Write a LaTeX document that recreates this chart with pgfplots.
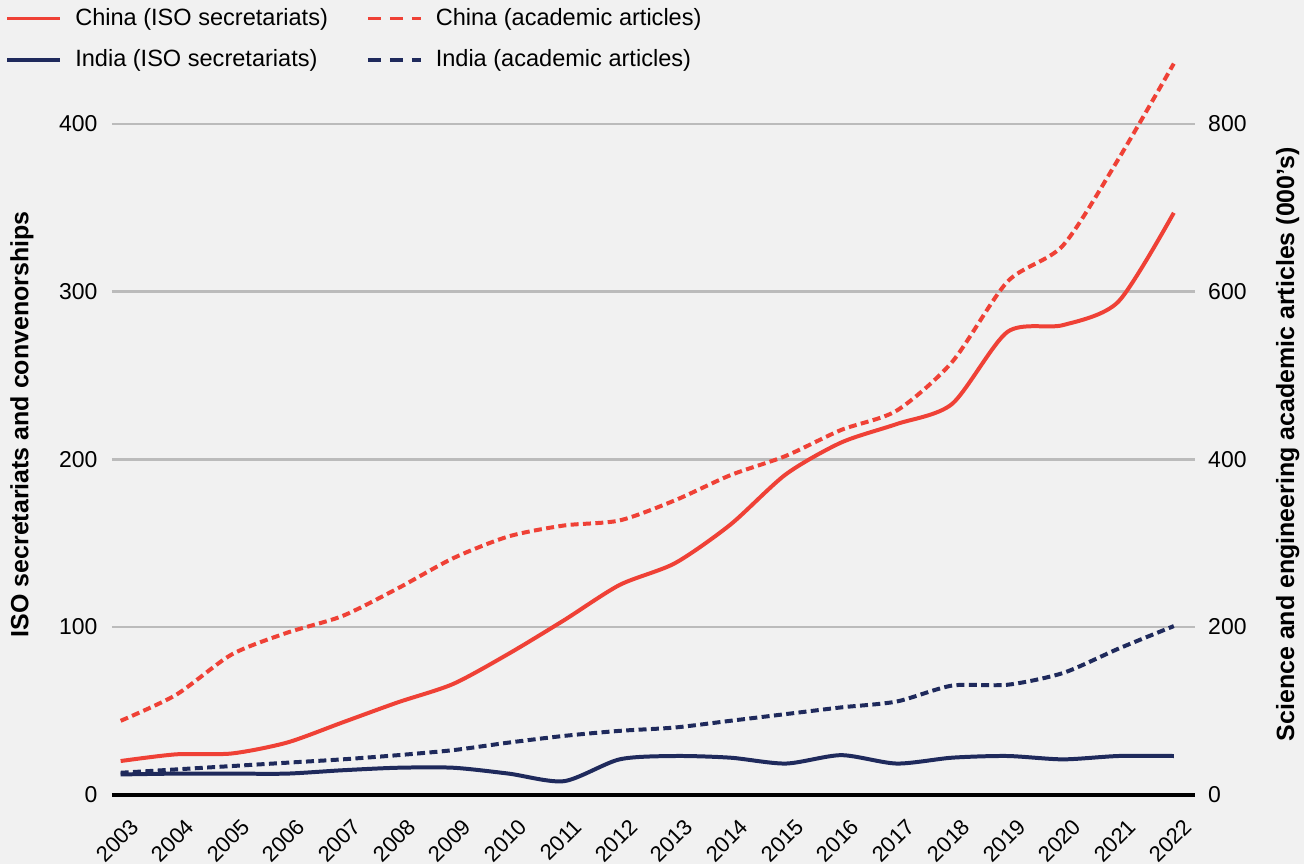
\documentclass[border=0pt]{standalone}
\usepackage{pgfplots}
\pgfplotsset{compat=1.18}
\usepackage{fontspec}
\setmainfont{Liberation Sans}
\definecolor{bg}{HTML}{F1F1F1}
\definecolor{cred}{HTML}{EF4136}
\definecolor{cnavy}{HTML}{1F2A5C}
\definecolor{cgrid}{HTML}{BBBBBB}

\pgfplotstableread{
year chinaiso indiaiso
2003 20   12
2004 24   12.5
2005 24.5 12.5
2006 31   12.5
2007 43   14.5
2008 55   16
2009 66   16
2010 84   12.5
2011 104  8
2012 125  21
2013 138  23
2014 161  22
2015 191  18.5
2016 210  23.5
2017 221  18.5
2018 233  22
2019 276  23
2020 280  21
2021 294  23
2022 347  23
}\isodata

\pgfplotstableread{
year chinaart indiaart
2003 88   26
2004 119  30
2005 167  34
2006 193  38
2007 213  42
2008 246  47
2009 282  53
2010 308  62
2011 321  70
2012 327  76
2013 351  80
2014 381  88
2015 404  96
2016 435  104
2017 458  111
2018 516  130
2019 612  131
2020 655  145
2021 758  174
2022 872  201
}\artdata

\begin{document}
\begin{tikzpicture}
\fill[bg] (-56pt,-35pt) rectangle (597pt,398pt);
\begin{axis}[
  at={(0,0)}, anchor=south west, scale only axis,
  width=542.5pt, height=369.5pt,
  xmin=2002.84, xmax=2022.38, ymin=0, ymax=440,
  xtick={2003,...,2022},
  ytick={0,100,200,300,400},
  major tick length=0pt,
  axis x line*=bottom, axis y line*=left,
  x axis line style={black, line width=2pt, -},
  y axis line style={draw=none},
  ymajorgrids, grid style={cgrid, line width=1.3pt},
  /pgf/number format/assume math mode=true,
  x tick label style={/pgf/number format/1000 sep={}, rotate=45, anchor=north east, inner sep=0pt, xshift=-5pt, yshift=-11pt, font=\fontsize{11}{12}\selectfont},
  y tick label style={inner sep=0pt, xshift=-7pt, font=\fontsize{11.5}{13}\selectfont},
  ylabel={ISO secretariats and convenorships},
  every axis y label/.style={at={(axis description cs:-0.083,0.502)}, rotate=90, anchor=center, font=\bfseries\fontsize{12.5}{14}\selectfont},
  clip=false,
  legend columns=2,
  legend style={at={(axis description cs:-0.0986,1.0716)}, anchor=north west, draw=none, fill=none,
    font=\fontsize{11.8}{13}\selectfont, inner sep=0pt, row sep=6.5pt,
    /tikz/every even column/.append style={column sep=17pt}},
  legend cell align=left,
  legend image code/.code={\draw[#1, line width=2pt] (0pt,0pt) -- (26.5pt,0pt); \path[draw=none, fill=none] (32pt,0pt) circle (0pt);},
]
\addlegendimage{cred}
\addlegendentry{China (ISO secretariats)}
\addlegendimage{cred, dash pattern=on 6.5pt off 4.5pt}
\addlegendentry{China (academic articles)}
\addlegendimage{cnavy}
\addlegendentry{India (ISO secretariats)}
\addlegendimage{cnavy, dash pattern=on 6.5pt off 4.5pt}
\addlegendentry{India (academic articles)}
\addplot[cred, line width=2pt, smooth, tension=0.45, forget plot] table[x=year, y=chinaiso] {\isodata};
\addplot[cnavy, line width=2pt, smooth, tension=0.45, forget plot] table[x=year, y=indiaiso] {\isodata};
\end{axis}
\begin{axis}[
  at={(0,0)}, anchor=south west, scale only axis,
  width=542.5pt, height=369.5pt,
  xmin=2002.84, xmax=2022.38, ymin=0, ymax=880,
  ytick={0,200,400,600,800},
  major tick length=0pt,
  axis x line=none, axis y line*=right,
  y axis line style={draw=none},
  /pgf/number format/assume math mode=true,
  y tick label style={inner sep=0pt, xshift=6.5pt, font=\fontsize{11.5}{13}\selectfont},
  ylabel={Science and engineering academic articles (000’s)},
  every axis y label/.style={at={(axis description cs:1.0857,0.475)}, rotate=90, anchor=center, font=\bfseries\fontsize{12.5}{14}\selectfont},
  clip=false,
]
\addplot[cred, line width=2pt, smooth, tension=0.45, dash pattern=on 4pt off 2.2pt] table[x=year, y=chinaart] {\artdata};
\addplot[cnavy, line width=2pt, smooth, tension=0.45, dash pattern=on 4pt off 2.2pt] table[x=year, y=indiaart] {\artdata};
\end{axis}
\end{tikzpicture}
\end{document}
